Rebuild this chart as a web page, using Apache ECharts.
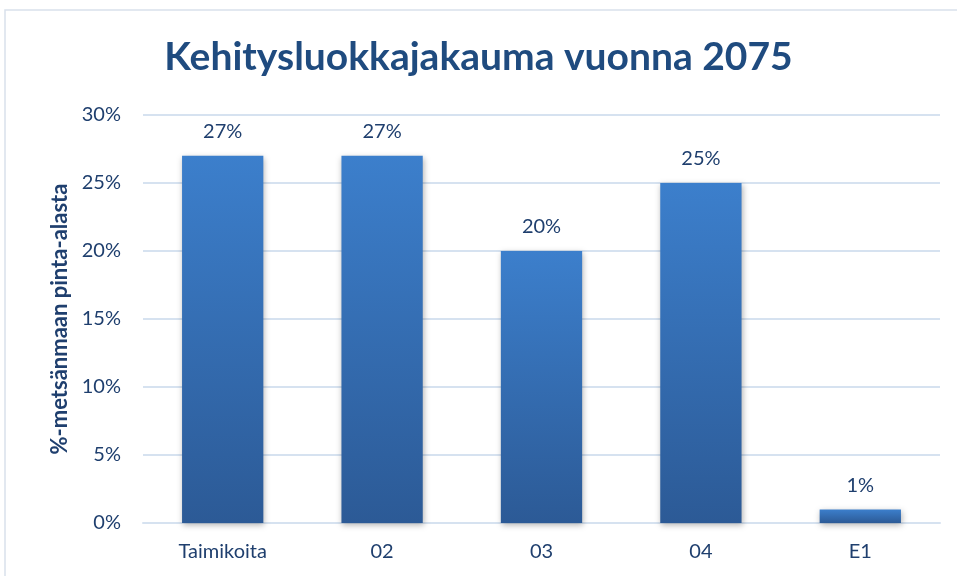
<!DOCTYPE html>
<html>
<head>
<meta charset="utf-8">
<script src="https://cdn.jsdelivr.net/npm/echarts@6/dist/echarts.min.js"></script>
<style>
  html, body { margin: 0; padding: 0; background: #fff; }
  #container { width: 957px; height: 576px; }
</style>
</head>
<body>
<div id="container"></div>
<script>
    var categories = ['Taimikoita', '02', '03', '04', 'E1'];
    var values = [27, 27, 20, 25, 1];
    var titleText = 'Kehitysluokkajakauma vuonna 2075';
    var yAxisName = '%-metsänmaan pinta-alasta';

    var textColor = '#1f3f6e';
    var font = 'Lato';

    var myChart = echarts.init(document.getElementById('container'));

    var option = {
        backgroundColor: '#fff',
        graphic: [{
            type: 'rect',
            shape: { x: 5, y: 10, width: 1000, height: 1000 },
            style: { fill: 'none', stroke: '#d9e1ec', lineWidth: 1.5 },
            silent: true
        }],
        title: {
            text: titleText,
            left: 'center',
            top: 33,
            textStyle: {
                color: '#1f4b7f',
                fontFamily: font,
                fontWeight: 'bold',
                fontSize: 39
            }
        },
        grid: { left: 143, right: 17, top: 115, bottom: 53 },
        xAxis: {
            type: 'category',
            data: categories,
            axisLine: { lineStyle: { color: '#d6e2f0', width: 2 } },
            axisTick: { show: false },
            axisLabel: { color: textColor, fontFamily: font, fontSize: 20, margin: 19 }
        },
        yAxis: {
            type: 'value',
            min: 0,
            max: 30,
            interval: 5,
            name: yAxisName,
            nameLocation: 'middle',
            nameGap: 72,
            nameTextStyle: { color: textColor, fontFamily: font, fontWeight: 'bold', fontSize: 22 },
            axisLabel: {
                color: textColor, fontFamily: font, fontSize: 20, margin: 22,
                formatter: function (v) { return v + '%'; }
            },
            splitLine: { lineStyle: { color: '#d6e2f0', width: 2 } }
        },
        series: [{
            type: 'bar',
            data: values,
            barWidth: '51%',
            itemStyle: {
                color: new echarts.graphic.LinearGradient(0, 0, 0, 1, [
                    { offset: 0, color: '#3c7fcc' },
                    { offset: 1, color: '#2c5a96' }
                ]),
                shadowColor: 'rgba(0,0,0,0.3)',
                shadowBlur: 6,
                shadowOffsetX: 1,
                shadowOffsetY: 2
            },
            label: {
                show: true,
                position: 'top',
                distance: 14,
                color: textColor,
                fontFamily: font,
                fontSize: 20,
                formatter: function (p) { return p.value + '%'; }
            }
        }]
    };

    myChart.setOption(option);
</script>
</body>
</html>
